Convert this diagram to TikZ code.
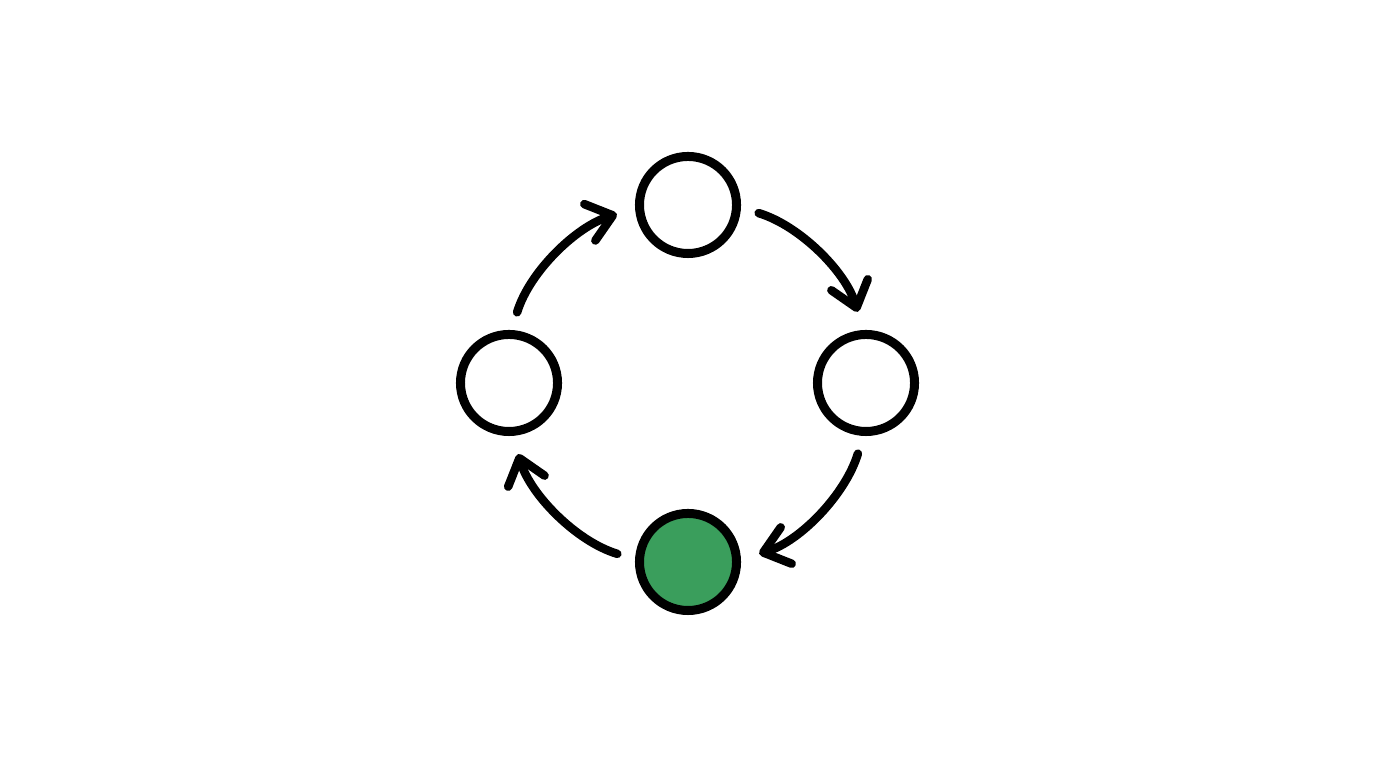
\documentclass[tikz,border=0pt]{standalone}
\usetikzlibrary{arrows.meta}
\definecolor{doneGreen}{HTML}{3A9E5C}
\begin{document}
\begin{tikzpicture}[x=0.01cm,y=0.01cm]
\tikzset{
  stage/.style={circle,draw=black,line width=0.09cm,minimum size=0.97cm,inner sep=0pt,fill=white},
  flow/.style={line width=0.085cm,line cap=round,-{Straight Barb[length=0.24cm,width=0.38cm,round]},looseness=0.905,shorten <=0.185cm,shorten >=0.19cm}
}
\useasboundingbox (0,0) rectangle (1376,768);
\node[stage] (top) at (688,563) {};
\node[stage] (right) at (866,385) {};
\node[stage,fill=doneGreen] (bottom) at (688,206) {};
\node[stage] (left) at (509,385) {};
\foreach \from/\to [count=\k from 0] in {top/right,right/bottom,bottom/left,left/top}{
  \pgfmathsetmacro{\sa}{-3.05-90*\k}
  \pgfmathsetmacro{\ea}{93.05-90*\k}
  \pgfmathsetmacro{\oa}{-16.8-90*\k}
  \pgfmathsetmacro{\ia}{106.8-90*\k}
  \draw[flow] (\from.\sa) to[out=\oa,in=\ia] (\to.\ea);
}
\end{tikzpicture}
\end{document}
